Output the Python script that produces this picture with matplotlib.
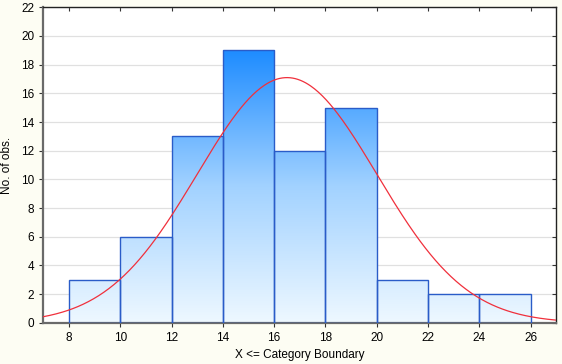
import matplotlib.pyplot as plt
import numpy as np
from matplotlib.colors import LinearSegmentedColormap

plt.rcParams['font.family'] = ['Liberation Sans', 'DejaVu Sans']

# histogram data (bin edges and counts)
bin_edges = [8, 10, 12, 14, 16, 18, 20, 22, 24, 26]
counts = [3, 6, 13, 19, 12, 15, 3, 2, 2]

# fitted normal curve parameters
fit_mean = 16.5
fit_sd = 3.5

x_ticks = [8, 10, 12, 14, 16, 18, 20, 22, 24, 26]
y_ticks = list(range(0, 23, 2))

fig, ax = plt.subplots(figsize=(5.62, 3.64), dpi=100)
fig.patch.set_facecolor('#fdfdf3')
ax.set_facecolor('white')
fig.subplots_adjust(left=0.077, right=0.99, top=0.98, bottom=0.113)

# gradient from light (bottom) to blue (top of tallest bar)
cmap = LinearSegmentedColormap.from_list('bl', ['#eef8ff', '#a2d2ff', '#1e8cff'])
grad = np.linspace(0, 1, 256).reshape(-1, 1)
top = max(counts)

widths = np.diff(bin_edges)
bars = ax.bar(bin_edges[:-1], counts, width=widths, align='edge',
              facecolor='none', edgecolor='#2a5cc8', linewidth=1.0, zorder=3)
for b in bars:
    im = ax.imshow(grad, extent=[b.get_x(), b.get_x() + b.get_width(), 0, top],
                   origin='lower', aspect='auto', cmap=cmap, zorder=2)
    im.set_clip_path(b)

# normal curve scaled to counts
n = sum(counts)
bw = widths[0]
xs = np.linspace(7, 27, 400)
ys = n * bw / (fit_sd * np.sqrt(2 * np.pi)) * np.exp(-(xs - fit_mean) ** 2 / (2 * fit_sd ** 2))
ax.plot(xs, ys, color='#f0303c', linewidth=0.9, zorder=4)

ax.set_xlim(7, 27)
ax.set_ylim(0, 22)
ax.set_xticks(x_ticks)
ax.set_yticks(y_ticks)
ax.yaxis.grid(True, color='#e0e0e0', linewidth=0.9, zorder=0)
ax.set_axisbelow(True)

ax.tick_params(axis='both', labelsize=8.5, length=3, color='#333333')
ax.tick_params(top=True, right=True, direction='out')
# top and right ticks point inward
for t in ax.xaxis.get_major_ticks():
    t.tick2line.set_marker(3)
for t in ax.yaxis.get_major_ticks():
    t.tick2line.set_marker(0)

for side in ['top', 'right']:
    ax.spines[side].set_color('#222222')
    ax.spines[side].set_linewidth(1.0)
for side in ['bottom', 'left']:
    ax.spines[side].set_color('#6a6a6a')
    ax.spines[side].set_linewidth(1.6)

ax.set_xlabel('X <= Category Boundary', fontsize=8.5, labelpad=4)
ax.set_ylabel('No. of obs.', fontsize=8.5, labelpad=6)

plt.savefig('out.png', dpi=100, facecolor=fig.get_facecolor())
